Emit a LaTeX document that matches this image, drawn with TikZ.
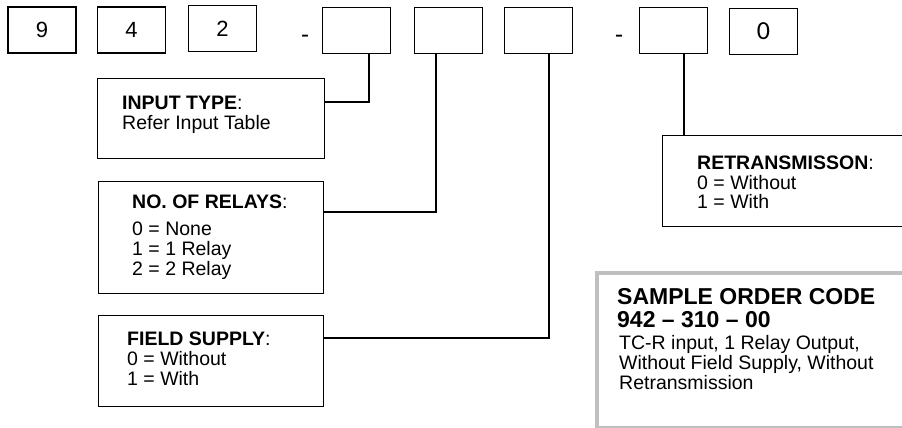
\documentclass[tikz,border=0pt]{standalone}
\usepackage{fontspec}
\setmainfont{Liberation Sans}
\newfontfamily\calfont{Carlito}
\begin{document}
\begin{tikzpicture}[x=1pt,y=-1pt,
  digbox/.style={draw,line width=1.2pt,rectangle,inner sep=0pt,minimum width=68pt,minimum height=46pt,font=\fontsize{22}{22}\selectfont},
  infobox/.style={draw,line width=1.2pt,rectangle,inner sep=0pt,anchor=north west},
  txt/.style={anchor=base west,inner sep=0pt,font=\fontsize{19.5}{20}\selectfont},
  bigtxt/.style={anchor=base west,inner sep=0pt,font=\fontsize{23}{24}\selectfont\bfseries},
  conn/.style={line width=1.2pt}]
\useasboundingbox (0,0) rectangle (902,428);
% top code boxes
\node[digbox] (b1) at (42,30) {9};
\node[digbox] (b2) at (131.5,30) {4};
\node[digbox] (b3) at (222.5,28.5) {2};
\node[inner sep=0pt,font=\fontsize{24}{24}\selectfont] (d1) at (305,39) {-};
\node[digbox] (b4) at (356.5,30.5) {};
\node[digbox] (b5) at (448.5,30.5) {};
\node[digbox] (b6) at (538.5,30.5) {};
\node[inner sep=0pt,font=\fontsize{26}{26}\calfont] (d2) at (619,39) {-};
\node[digbox] (b7) at (673.5,30.5) {};
\node[digbox,font=\fontsize{26}{26}\calfont] (b8) at (763.5,31.5) {0};
% info boxes
\node[infobox,minimum width=227pt,minimum height=80pt] (input) at (97,78) {};
\node[txt] (input1) at (122,109) {\textbf{INPUT TYPE}:};
\node[txt] (input2) at (122,129) {Refer Input Table};

\node[infobox,minimum width=225pt,minimum height=112pt] (relay) at (98,181) {};
\node[txt] (relay1) at (132,208) {\textbf{NO. OF RELAYS}:};
\node[txt] (relay2) at (132,235) {0 = None};
\node[txt] (relay3) at (132,255) {1 = 1 Relay};
\node[txt] (relay4) at (132,275) {2 = 2 Relay};

\node[infobox,minimum width=225pt,minimum height=91pt] (field) at (98,315) {};
\node[txt] (field1) at (127,345) {\textbf{FIELD SUPPLY}:};
\node[txt] (field2) at (127,365) {0 = Without};
\node[txt] (field3) at (127,385) {1 = With};

\node[infobox,minimum width=250pt,minimum height=91pt] (retr) at (662,135) {};
\node[txt] (retr1) at (697,169) {\textbf{RETRANSMISSON}:};
\node[txt] (retr2) at (697,189) {0 = Without};
\node[txt] (retr3) at (697,208) {1 = With};

% sample order code box
\node[draw=black!25,line width=4pt,rectangle,inner sep=0pt,anchor=north west,minimum width=320pt,minimum height=155pt] (sample) at (595,271) {};
\node[bigtxt] (s1) at (617,304) {SAMPLE ORDER CODE};
\node[bigtxt] (s2) at (617,327) {942 -- 310 -- 00};
\node[txt] (s3) at (619,349) {TC-R input, 1 Relay Output,};
\node[txt] (s4) at (619,369) {Without Field Supply, Without};
\node[txt] (s5) at (619,389) {Retransmission};

% connectors
\coordinate (j1) at (369,102);
\coordinate (j2) at (436,212);
\coordinate (j3) at (549,338);
\coordinate (j4) at (684,135);
\draw[conn] (b4.south -| j1) -- (j1) -- (input.east |- j1);
\draw[conn] (b5.south -| j2) -- (j2) -- (relay.east |- j2);
\draw[conn] (b6.south -| j3) -- (j3) -- (field.east |- j3);
\draw[conn] (b7.south -| j4) -- (retr.north -| j4);
\end{tikzpicture}
\end{document}
